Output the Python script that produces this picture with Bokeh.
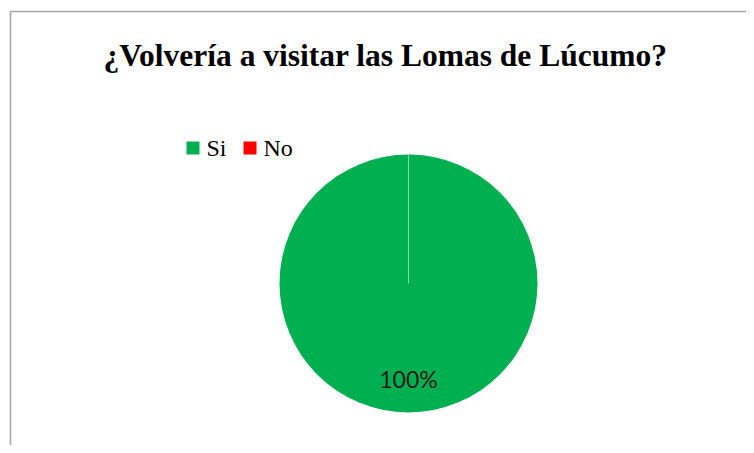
import math
from bokeh.plotting import figure
from bokeh.models import Range1d
from bokeh.core.properties import value
from bokeh.embed import file_html
from bokeh.resources import INLINE

title = "¿Volvería a visitar las Lomas de Lúcumo?"
categories = ["Si", "No"]
values = [100, 0]
colors = ["#00B050", "#FF0000"]

W, H = 746, 445
p = figure(width=W, height=H, output_backend="svg", toolbar_location=None,
           x_range=Range1d(0, W), y_range=Range1d(0, H), min_border=0)
p.axis.visible = False
p.grid.visible = False
p.outline_line_color = None
p.background_fill_color = "white"
p.border_fill_color = "white"

# chart area border (left and top edges visible)
p.line([10, 10, W + 5], [-5, 434, 434], line_color="#a6a6a6", line_width=1.5)

# title
p.text([385], [390], text=[title], text_font=value("Liberation Serif"),
       text_font_style="bold", text_font_size="31.5px", text_align="center",
       text_baseline="middle", text_color="black")

# pie
cx, cy, R = 408, 162, 129
total = sum(values)
ang = math.pi / 2
starts, ends = [], []
for v in values:
    sweep = 2 * math.pi * v / total
    starts.append(ang - sweep)
    ends.append(ang)
    ang -= sweep
for s, e, c, v in zip(starts, ends, colors, values):
    if v == 0:
        continue
    if abs(e - s) >= 2 * math.pi - 1e-9:
        p.circle([cx], [cy], radius=R, fill_color=c, line_color=None)
        p.line([cx, cx], [cy, cy + R], line_color="white", line_width=1, line_alpha=0.5)
    else:
        p.wedge([cx], [cy], radius=R, start_angle=s, end_angle=e,
                fill_color=c, line_color="white", line_width=1)

# data labels
for s, e, v in zip(starts, ends, values):
    if v == 0:
        continue
    mid = (s + e) / 2
    lx = cx + 0.74 * R * math.cos(mid)
    ly = cy + 0.74 * R * math.sin(mid)
    p.text([lx], [ly], text=[f"{v / total * 100:.0f}%"], text_font=value("Lato"),
           text_font_size="23px", text_align="center", text_baseline="middle",
           text_color="#1a1a1a")

# legend
lx0, ly0 = 186, 297.5
x = lx0
for cat, c in zip(categories, colors):
    p.rect([x + 6.5], [ly0], width=13, height=13, fill_color=c, line_color=None)
    p.text([x + 20], [ly0], text=[cat], text_font=value("Liberation Serif"),
           text_font_size="24px", text_align="left", text_baseline="middle",
           text_color="black")
    x += 57

open("out.html", "w").write(file_html(p, INLINE))
